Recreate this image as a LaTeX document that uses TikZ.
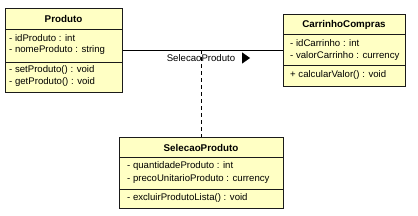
\documentclass[tikz,border=0pt]{standalone}
\usepackage{fontspec}
\setmainfont{Liberation Sans}
\usetikzlibrary{shapes.geometric}
\definecolor{classfill}{HTML}{FFFFC4}
\definecolor{classline}{HTML}{1A1A1A}
\tikzset{
  classbox/.style={draw=classline, fill=classfill, line width=1.3pt, anchor=north west, inner sep=0pt},
  sep/.style={draw=classline, line width=0.9pt},
  title/.style={font=\fontsize{9.8}{11}\selectfont\bfseries, inner sep=0pt},
  member/.style={font=\fontsize{9.6}{11}\selectfont, anchor=west, inner sep=0pt},
  assoc/.style={draw=black, line width=0.7pt},
  dep/.style={draw=black, line width=0.7pt, dash pattern=on 4pt off 3pt}
}
\begin{document}
\begin{tikzpicture}[x=1pt,y=-1pt]
\useasboundingbox (0,0) rectangle (418,215);
% Produto
\node[classbox, minimum width=117pt, minimum height=84pt] (prod) at (5,8) {};
\draw[sep] (5,29) -- (122,29);
\draw[sep] (5,62) -- (122,62);
\node[title] (prodt) at (63.5,18.5) {Produto};
\node[member] (pa1) at (9,38) {- idProduto : int};
\node[member] (pa2) at (9,50.5) {- nomeProduto : string};
\node[member] (pm1) at (9,70.5) {- setProduto() : void};
\node[member] (pm2) at (9,82) {- getProduto() : void};
% CarrinhoCompras
\node[classbox, minimum width=122pt, minimum height=72pt] (carr) at (283,14) {};
\draw[sep] (283,34) -- (405,34);
\draw[sep] (283,65) -- (405,65);
\node[title] (carrt) at (344,25) {CarrinhoCompras};
\node[member] (ca1) at (290,43.5) {- idCarrinho : int};
\node[member] (ca2) at (290,56.5) {- valorCarrinho : currency};
\node[member] (cm1) at (290,75) {+ calcularValor() : void};
% SelecaoProduto
\node[classbox, minimum width=164pt, minimum height=71pt] (sel) at (119,137) {};
\draw[sep] (119,157) -- (283,157);
\draw[sep] (119,189) -- (283,189);
\node[title] (selt) at (201,148) {SelecaoProduto};
\node[member] (sa1) at (127,166.5) {- quantidadeProduto : int};
\node[member] (sa2) at (127,179) {- precoUnitarioProduto : currency};
\node[member] (sm1) at (127,198.5) {- excluirProdutoLista() : void};
% association
\coordinate (pr) at (prod.east |- 0,50);
\coordinate (cl) at (carr.west |- 0,50);
\draw[assoc] (pr) -- (cl);
\coordinate (mid) at (201,50);
\draw[dep] (mid) -- (sel.north -| mid);
\node[member, anchor=center] (lbl) at (201,58.5) {SelecaoProduto};
\node[isosceles triangle, isosceles triangle apex angle=70, fill=black, inner sep=0pt, minimum height=8pt, minimum width=8pt] (tri) at (245,58) {};
\end{tikzpicture}
\end{document}
